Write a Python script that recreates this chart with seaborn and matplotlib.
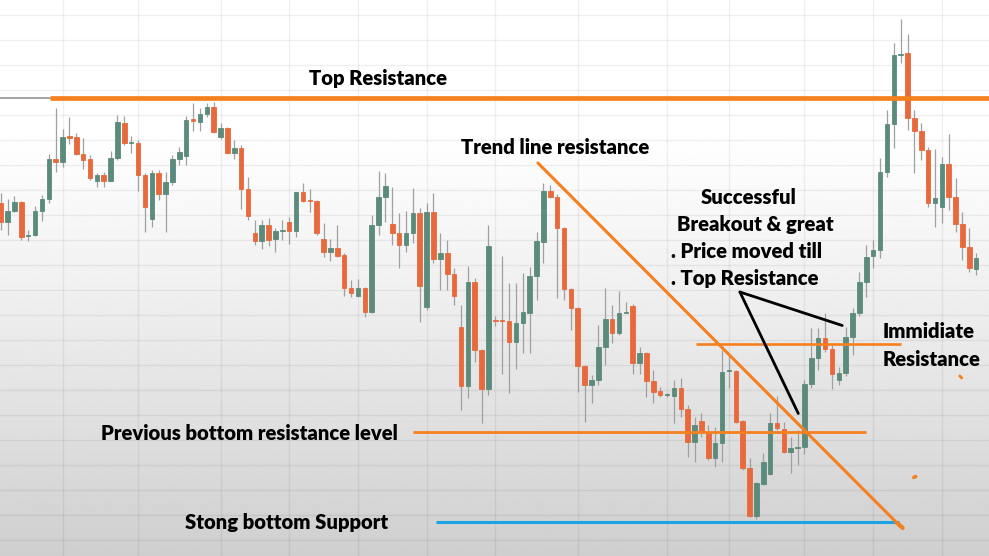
import numpy as np
import pandas as pd
import matplotlib
matplotlib.use("Agg")
import matplotlib.pyplot as plt
import seaborn as sns

# OHLC (arbitrary price units, one candle per bar)
opens = [353, 334, 345, 354, 320, 321, 345, 357, 397, 394, 419.5, 419, 402, 397, 375, 381, 375, 398, 433, 413,
         413, 381, 337, 383, 362, 374, 397, 400, 436.5, 434, 442, 449, 419, 428, 403, 408, 367, 323, 315, 331,
         317, 325, 334, 325, 364, 355.5, 355, 317, 304, 308, 301, 268, 260, 268, 244, 331, 359, 332, 323, 311,
         323, 343, 249, 344, 297, 303, 282, 229, 170, 274, 206, 167, 235.5, 235.5, 235, 214, 233, 243, 280, 314,
         365, 359, 328, 267, 248, 190, 171, 176, 209, 237, 223, 243, 250, 193, 203, 175, 165, 161, 160, 168,
         147, 114, 135, 123, 98, 113, 185, 185, 135, 88, 40, 72, 82, 133, 127, 104, 108, 109, 172, 198,
         218, 207, 176, 183, 219, 243, 274, 300, 306, 384, 432, 501, 503, 438, 425, 406, 353, 349, 392, 359,
         332, 309, 287]
highs = [363, 357, 360, 355, 326, 350, 361, 402, 448, 427, 439, 423, 418, 401, 383, 384, 405, 441, 440, 420,
         416, 383, 386, 386, 384, 401, 409, 440, 453, 448, 453, 454, 433, 429, 416, 411, 379, 336, 336, 338,
         328, 336, 339, 364, 373, 367, 356, 333, 317, 331, 303, 276, 277, 269, 341, 385, 383, 369, 343, 345,
         368, 348, 353, 363, 323, 316, 288, 251, 290, 278, 207, 331, 240, 300, 273, 273, 283, 289, 324, 373,
         371, 362, 329, 268, 249, 191, 181, 231, 268, 251, 265, 254, 252, 209, 204, 186, 169, 163, 176, 178,
         151, 139, 143, 131, 129, 206, 201, 186, 136, 98, 74, 103, 143, 160, 134, 119, 126, 176, 228, 228,
         243, 213, 189, 229, 248, 284, 311, 316, 398, 446, 513, 537, 522, 446, 433, 409, 407, 399, 422, 378,
         344, 328, 303]
lows = [326, 321, 344, 316, 315, 320, 335, 353, 384, 389, 412, 401, 387, 376, 369, 369, 375, 396, 411, 403,
        365, 324, 329, 356, 324, 371, 391, 391, 425, 425, 439, 423, 417, 402, 397, 347, 336, 311, 307, 310,
        304, 316, 312, 319, 354, 344, 321, 299, 295, 299, 260, 259, 259, 239, 243, 321, 334, 311, 288, 304,
        313, 234, 246, 293, 266, 266, 251, 146, 158, 194, 133, 161, 230, 182, 163, 187, 203, 203, 256, 293,
        358, 258, 256, 226, 164, 134, 153, 171, 191, 213, 221, 243, 182, 182, 159, 153, 159, 159, 133, 139,
        99, 94, 119, 96, 89, 94, 168, 133, 86, 39, 37, 71, 81, 126, 103, 83, 91, 102, 168, 186,
        204, 167, 171, 180, 201, 240, 259, 288, 298, 379, 408, 493, 426, 383, 396, 349, 329, 333, 346, 324,
        296, 284, 281]
closes = [334, 345, 354, 319, 321, 345, 357, 397, 394, 419, 418.5, 402, 396, 378, 381, 375, 398, 434, 413, 414,
          381, 349, 383, 362, 374, 397, 404, 436, 435.5, 442, 449, 424, 428, 403, 408, 367, 340, 315, 331, 316,
          325, 325.5, 325, 364, 355, 355, 323, 304, 308, 300, 268, 263, 268, 244, 331, 359, 370, 323, 311, 323,
          343, 270, 344, 297, 303, 282, 260, 170, 274, 206, 167, 310, 235, 235, 214, 233, 244, 280, 315, 365,
          359, 328, 267, 248, 190, 171, 176, 209, 237, 223, 243, 243.5, 193, 203, 175, 164, 161, 161.5, 168, 147,
          114, 131, 124, 98, 113, 184, 185.5, 134, 88, 40, 73, 94, 133, 128, 104, 108, 109, 172, 198, 218,
          207, 182, 183, 219, 243, 274, 299, 306, 384, 432, 501, 501.5, 438, 425, 406, 353, 358, 392, 359, 332,
          309, 288, 298]

# hand drawn levels on the screenshot: (price, first bar, last bar)
top_resistance = (457.7, 7.2, 150)
immediate_resistance = (212, 101.2, 131.1)
previous_bottom = (123.7, 60.0, 125.9)
strong_support = (34.3, 63.3, 130.7)
trend_line_x = [78.2, 130.9]
trend_line_y = [393, 30]

# month separators of the chart grid (bar index)
month_starts = [9, 20, 32, 42, 52, 62, 72, 84, 97, 106, 117, 127, 137]

GREEN = "#5b8b7c"
ORANGE = "#e8693b"
LINE_ORANGE = "#f5801f"
BLUE = "#1ca3e3"

sns.set_theme(style="white")
plt.rcParams['font.family'] = ['Lato', 'DejaVu Sans']

df = pd.DataFrame({'Open': opens, 'High': highs, 'Low': lows, 'Close': closes})
df['Bar'] = np.arange(len(df))
df['Up'] = df['Close'] >= df['Open']
df['Bottom'] = df[['Open', 'Close']].min(axis=1)
df['Height'] = (df['Close'] - df['Open']).abs().clip(lower=1.2)
df['Color'] = np.where(df['Up'], GREEN, ORANGE)

fig = plt.figure(figsize=(9.89, 5.56), dpi=100)
ax = fig.add_axes([0, 0, 1, 1])
px = 989 / 6.87
ax.set_xlim(-0.1, px - 0.1)
ax.set_ylim(0, 556)

# washed out screenshot background (white at top, grey at bottom)
rows = np.linspace(0, 1, 300)
shade = 1 - 0.19 * np.clip((rows - 0.22) / 0.78, 0, 1) ** 1.2
ax.imshow(shade[:, None], cmap='gray', vmin=0, vmax=1, aspect='auto',
          extent=(-0.1, px - 0.1, 0, 556), origin='upper', zorder=0)

for lvl in np.arange(16, 556, 25):
    ax.axhline(lvl, color='black', alpha=0.06, lw=1.0, zorder=1)
for m in month_starts:
    ax.axvline(m, color='black', alpha=0.06, lw=1.0, zorder=1)

# candles
ax.vlines(df['Bar'], df['Low'], df['High'], color='#a0a0a0', lw=0.9, zorder=2)
ax.bar(df['Bar'], df['Height'], bottom=df['Bottom'], width=0.66, color=df['Color'],
       edgecolor=df['Color'], linewidth=0.6, zorder=3)

# drawn lines
ax.plot([-1, top_resistance[1]], [top_resistance[0]] * 2, color='#9c9c9c', lw=1.3, zorder=4)
for lvl, x0, x1, col, w in [(*top_resistance, LINE_ORANGE, 3.4),
                            (*immediate_resistance, LINE_ORANGE, 1.9),
                            (*previous_bottom, LINE_ORANGE, 2.0),
                            (*strong_support, BLUE, 2.2)]:
    ax.plot([x0, x1], [lvl, lvl], color=col, lw=w, solid_capstyle='butt', zorder=5)
ax.plot(trend_line_x, trend_line_y, color=LINE_ORANGE, lw=2.2, zorder=5)
ax.plot([130.5, 131.3], [33, 28], color=LINE_ORANGE, lw=3, zorder=5)

# stray pen marks
ax.plot([132.9, 133.2], [78.5, 79.5], color=LINE_ORANGE, lw=2.5, zorder=5)
ax.plot([139.6, 139.9], [180, 178], color=LINE_ORANGE, lw=2.0, zorder=5)

# black pointers
ax.plot([107.6, 122.5], [264, 230.5], color='black', lw=2.0, zorder=6)
ax.plot([107.6, 116.1], [264, 142.5], color='black', lw=2.0, zorder=6)

txt = dict(fontsize=14.6, fontweight='heavy', color='black', zorder=7, va='center')
ax.text(308 / 6.87, 556 - 79, 'Top Resistance', **txt)
ax.text(460 / 6.87, 556 - 148, 'Trend line resistance', **txt)
ax.text(700 / 6.87, 556 - 198, 'Successful', **txt)
ax.text(676 / 6.87, 556 - 225, 'Breakout & great', **txt)
ax.text(670 / 6.87, 556 - 252, '. Price moved till', **txt)
ax.text(670 / 6.87, 556 - 279, '. Top Resistance', **txt)
ax.text(882 / 6.87, 556 - 332, 'Immidiate', **txt)
ax.text(882 / 6.87, 556 - 359, 'Resistance', **txt)
ax.text(100 / 6.87, 556 - 433, 'Previous bottom resistance level', **txt)
ax.text(184 / 6.87, 556 - 523, 'Stong bottom Support', **txt)

ax.axis('off')
fig.savefig('out.png', dpi=100)
